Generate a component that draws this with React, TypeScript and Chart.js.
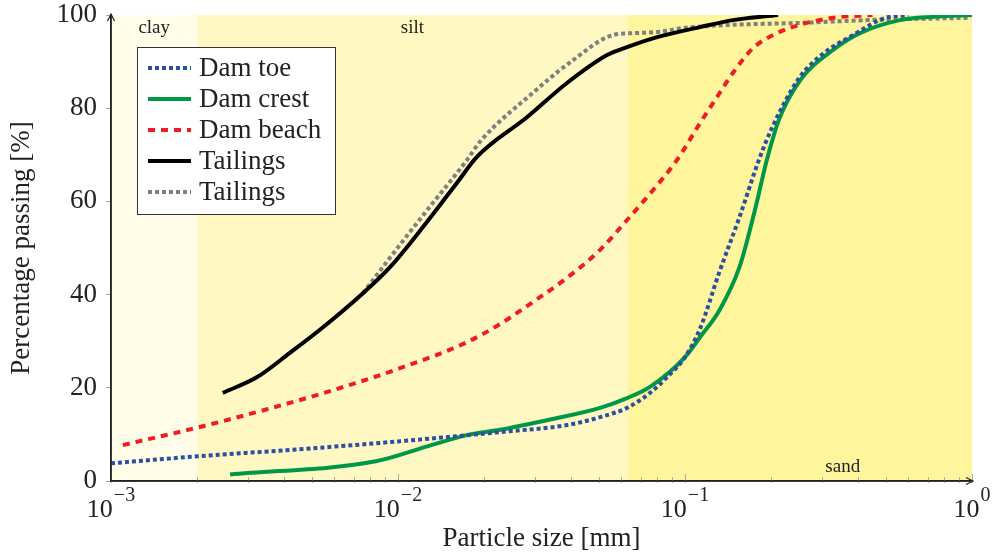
import React, { useEffect, useRef } from "react";
import { Chart, registerables } from "chart.js";

Chart.register(...registerables);

// ---- data ----
const damToeSize = [0.001, 0.002, 0.005, 0.01, 0.0227, 0.0388, 0.0506, 0.0628, 0.0755, 0.086, 0.1, 0.113, 0.132, 0.155, 0.18, 0.2, 0.25, 0.3, 0.38, 0.5, 0.6];
const damToePassing = [3.8, 5.3, 7.0, 8.5, 10.5, 12.0, 13.7, 15.7, 18.9, 22.1, 26.6, 32.8, 45, 56.7, 68.5, 75.5, 86.5, 91.5, 95.5, 99.4, 100];

const damCrestSize = [0.0026, 0.00845, 0.0129, 0.0178, 0.0227, 0.0339, 0.0506, 0.0628, 0.0755, 0.1, 0.113, 0.132, 0.155, 0.175, 0.193, 0.214, 0.252, 0.328, 0.407, 0.561, 0.731, 1];
const damCrestPassing = [1.4, 4.3, 7.6, 10.0, 11.0, 13.2, 15.7, 17.8, 20.2, 26.6, 30.9, 36.7, 46.0, 58.0, 69.0, 78, 86, 92.5, 96.1, 98.9, 99.6, 100];

const damBeachSize = [0.0011, 0.00204, 0.0035, 0.00594, 0.01016, 0.0174, 0.0227, 0.0295, 0.0388, 0.0506, 0.0628, 0.0773, 0.0938, 0.1128, 0.1293, 0.147, 0.1726, 0.2092, 0.2517, 0.328, 0.45];
const damBeachPassing = [7.7, 11.6, 15.4, 19.5, 24.2, 29.8, 33.7, 38.4, 43.6, 49.6, 56, 62.4, 68.9, 76.8, 82.4, 87.6, 92.9, 96.1, 97.9, 99.4, 100];

const tailingsSize = [0.00245, 0.00323, 0.0042, 0.00548, 0.00755, 0.00938, 0.01222, 0.01606, 0.0188, 0.0282, 0.0388, 0.0535, 0.0628, 0.0805, 0.1128, 0.147, 0.211];
const tailingsPassing = [18.9, 22.3, 27.5, 33, 40.3, 45.9, 54.5, 64, 69.5, 78.1, 85.4, 91.4, 93.1, 95.3, 97.4, 98.9, 100];

const tailings2Size = [0.00755, 0.0101, 0.01324, 0.0174, 0.0193, 0.0295, 0.0407, 0.0561, 0.0659, 0.0814, 0.0984, 0.147, 0.252, 0.43, 0.99];
const tailings2Passing = [40.3, 50.5, 59.7, 68.9, 72.8, 83.3, 90.3, 95.7, 96.1, 96.4, 97.2, 97.9, 98.3, 98.9, 99.4];

const seriesLabels = ["Dam toe", "Dam crest", "Dam beach", "Tailings", "Tailings"];

const xTickValues = [0.001, 0.01, 0.1, 1];
const xTickBase = "10";
const xTickExponents = ["\u22123", "\u22122", "\u22121", "0"];
const yTickValues = [0, 20, 40, 60, 80, 100];

const bandEdges = [0.001, 0.002, 0.063, 1];
const bandNames = ["clay", "silt", "sand"];

// ---- styles ----
const SERIF = "'Liberation Serif', 'DejaVu Serif', serif";
const TEXT = "#222222";
const BAND_COLORS = ["#FFFCE8", "#FFF8C2", "#FFF59D"];
const BLUE = "#2D4FA3";
const GREEN = "#009846";
const RED = "#EE1D24";
const GRAY = "#7F7F7F";
const BLACK = "#000000";

const bgPlugin = {
  id: "bands",
  beforeDraw(chart: any) {
    const { ctx, chartArea } = chart;
    const xs = chart.scales.x;
    ctx.save();
    for (let i = 0; i < bandNames.length; i++) {
      const x0 = xs.getPixelForValue(bandEdges[i]);
      const x1 = xs.getPixelForValue(bandEdges[i + 1]);
      ctx.fillStyle = BAND_COLORS[i];
      ctx.fillRect(x0, chartArea.top, x1 - x0, chartArea.bottom - chartArea.top);
    }
    ctx.restore();
  },
};

const decoPlugin = {
  id: "deco",
  afterDatasetsDraw(chart: any) {
    const { ctx, chartArea } = chart;
    const xs = chart.scales.x;
    const { left, right, top, bottom } = chartArea;
    ctx.save();
    // minor / major ticks on x axis
    ctx.strokeStyle = "#A8A8A8";
    ctx.lineWidth = 1;
    for (let e = -3; e <= 0; e++) {
      for (let k = 1; k <= 9; k++) {
        const v = k * Math.pow(10, e);
        if (v > 1.0000001) break;
        const px = Math.round(xs.getPixelForValue(v)) + 0.5;
        const up = k === 1 ? 7 : 4;
        ctx.beginPath();
        ctx.moveTo(px, bottom - up);
        ctx.lineTo(px, bottom + 2);
        ctx.stroke();
      }
    }
    // axis lines and arrows
    ctx.strokeStyle = TEXT;
    ctx.lineWidth = 1.5;
    ctx.beginPath();
    ctx.moveTo(left, bottom);
    ctx.lineTo(right, bottom);
    ctx.moveTo(left, bottom);
    ctx.lineTo(left, top);
    ctx.stroke();
    ctx.lineWidth = 1.2;
    ctx.beginPath();
    ctx.moveTo(left - 3.5, top + 6);
    ctx.lineTo(left, top - 1);
    ctx.lineTo(left + 3.5, top + 6);
    ctx.moveTo(right - 6, bottom - 3.5);
    ctx.lineTo(right + 1, bottom);
    ctx.lineTo(right - 6, bottom + 3.5);
    ctx.stroke();

    // x tick labels: 10 with raised exponent
    ctx.fillStyle = TEXT;
    ctx.textBaseline = "alphabetic";
    ctx.textAlign = "left";
    xTickValues.forEach((v, i) => {
      const px = xs.getPixelForValue(v);
      ctx.font = `26px ${SERIF}`;
      const wb = ctx.measureText(xTickBase).width;
      ctx.font = `20px ${SERIF}`;
      const we = ctx.measureText(xTickExponents[i]).width;
      const x0 = px - (wb + 1 + we) / 2;
      ctx.font = `26px ${SERIF}`;
      ctx.fillText(xTickBase, x0, bottom + 36);
      ctx.font = `20px ${SERIF}`;
      ctx.fillText(xTickExponents[i], x0 + wb + 1, bottom + 20);
    });

    // band labels
    ctx.font = `19px ${SERIF}`;
    ctx.textAlign = "center";
    for (let i = 0; i < bandNames.length; i++) {
      const x0 = xs.getPixelForValue(bandEdges[i]);
      const x1 = xs.getPixelForValue(bandEdges[i + 1]);
      if (i < 2) {
        ctx.fillText(bandNames[i], (x0 + x1) / 2, top + 18);
      } else {
        ctx.fillText(bandNames[i], x0 + (x1 - x0) * 0.625, bottom - 9);
      }
    }

    // legend
    const bx = left + 26;
    const by = top + 32;
    const bw = 198;
    const bh = 167;
    ctx.fillStyle = "#FFFFFF";
    ctx.fillRect(bx, by, bw, bh);
    ctx.strokeStyle = "#333333";
    ctx.lineWidth = 1;
    ctx.strokeRect(bx + 0.5, by + 0.5, bw, bh);
    ctx.font = `27px ${SERIF}`;
    ctx.textAlign = "left";
    ctx.textBaseline = "middle";
    chart.data.datasets.forEach((ds: any, i: number) => {
      const cy = by + 21 + i * 31;
      ctx.strokeStyle = ds.borderColor;
      ctx.lineWidth = ds.borderWidth;
      ctx.setLineDash(ds.borderDash || []);
      ctx.lineCap = "butt";
      ctx.beginPath();
      ctx.moveTo(bx + 11, cy);
      ctx.lineTo(bx + 54, cy);
      ctx.stroke();
      ctx.setLineDash([]);
      ctx.fillStyle = TEXT;
      ctx.fillText(ds.label, bx + 62, cy + 1);
    });
    ctx.restore();
  },
};

function pts(xs: number[], ys: number[]) {
  return xs.map((x, i) => ({ x, y: ys[i] }));
}

export default function App() {
  const ref = useRef<HTMLCanvasElement>(null);
  useEffect(() => {
    document.body.style.margin = "0";
    const canvas = ref.current!;
    const common = { pointRadius: 0, borderWidth: 4, fill: false, cubicInterpolationMode: "monotone" as const };
    const chart = new Chart(canvas, {
      type: "line",
      data: {
        datasets: [
          { ...common, label: seriesLabels[0], data: pts(damToeSize, damToePassing), borderColor: BLUE, borderDash: [4, 3] },
          { ...common, label: seriesLabels[1], data: pts(damCrestSize, damCrestPassing), borderColor: GREEN },
          { ...common, label: seriesLabels[2], data: pts(damBeachSize, damBeachPassing), borderColor: RED, borderDash: [7, 6] },
          { ...common, label: seriesLabels[3], data: pts(tailingsSize, tailingsPassing), borderColor: BLACK },
          { ...common, label: seriesLabels[4], data: pts(tailings2Size, tailings2Passing), borderColor: GRAY, borderDash: [4, 3] },
        ],
      },
      options: {
        responsive: false,
        animation: false,
        layout: { padding: { top: 15, right: 20, left: 0, bottom: 0 } },
        plugins: { legend: { display: false }, tooltip: { enabled: false } },
        scales: {
          x: {
            type: "logarithmic",
            min: 0.001,
            max: 1,
            position: "bottom",
            afterBuildTicks: (s: any) => {
              s.ticks = xTickValues.map((v) => ({ value: v }));
            },
            afterFit: (s: any) => {
              s.height = 75;
              s.paddingLeft = 0;
              s.paddingRight = 0;
              s.paddingTop = 0;
              s.paddingBottom = 0;
            },
            grid: { display: false },
            border: { display: true, color: TEXT, width: 1.5 },
            ticks: { display: false },
            title: {
              display: true,
              text: "Particle size [mm]",
              color: TEXT,
              font: { family: SERIF, size: 27 },
              padding: { top: 0, bottom: 1 },
            },
          },
          y: {
            min: 0,
            max: 100,
            afterBuildTicks: (s: any) => {
              s.ticks = yTickValues.map((v) => ({ value: v }));
            },
            afterFit: (s: any) => {
              s.width = 111;
              s.paddingLeft = 0;
              s.paddingRight = 0;
              s.paddingTop = 0;
              s.paddingBottom = 0;
            },
            grid: { drawOnChartArea: false, drawTicks: true, tickLength: 5, color: "#A8A8A8" },
            border: { display: true, color: TEXT, width: 1.5 },
            ticks: {
              padding: 9,
              color: TEXT,
              font: { family: SERIF, size: 27 },
            },
            title: {
              display: true,
              text: "Percentage passing [%]",
              color: TEXT,
              font: { family: SERIF, size: 27 },
              padding: { top: 6, bottom: 0 },
            },
          },
        },
      },
      plugins: [bgPlugin, decoPlugin],
    });
    return () => chart.destroy();
  }, []);
  return (
    <div style={{ width: 992, height: 556 }}>
      <canvas ref={ref} width={992} height={556} style={{ display: "block", width: 992, height: 556 }} />
    </div>
  );
}
